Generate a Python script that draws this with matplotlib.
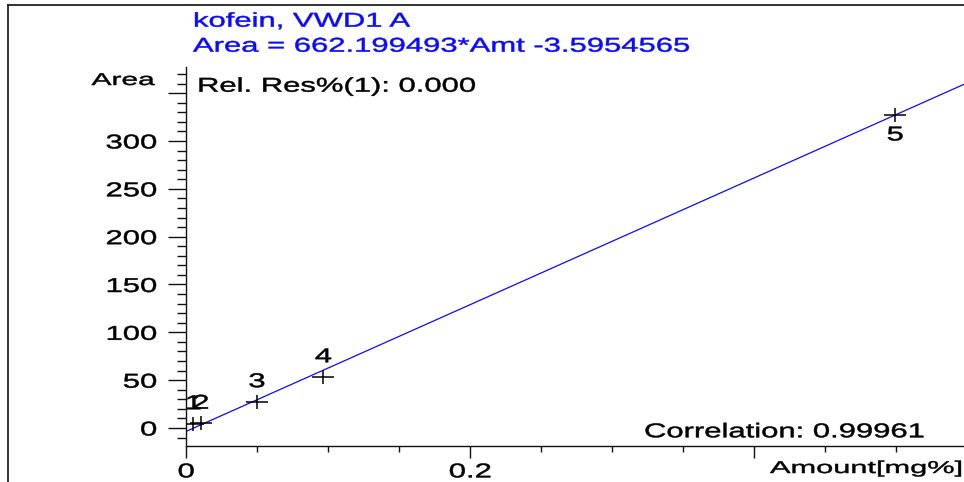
import matplotlib
matplotlib.use("Agg")
import matplotlib.pyplot as plt
from matplotlib.patheffects import AbstractPathEffect
from matplotlib.transforms import Affine2D
from matplotlib.path import Path
from matplotlib.lines import Line2D
from matplotlib.ticker import MultipleLocator

# Calibration data: caffeine standard, detector VWD1 A
amount = [0.005, 0.0103, 0.0498, 0.0967, 0.4993]
area = [4.5, 5.0, 27.5, 53.6, 327.2]
level_labels = ["1", "2", "3", "4", "5"]
label_above = [True, True, True, True, False]

slope = 662.199493
intercept = -3.5954565
correlation = 0.99961
rel_res = 0.000

y_ticks = [0, 50, 100, 150, 200, 250, 300, 350]
y_tick_labels = ["0", "50", "100", "150", "200", "250", "300", ""]
x_ticks = [0.0, 0.2, 0.4]
x_tick_labels = ["0", "0.2", ""]

compound = "kofein, VWD1 A"

BLUE = "#0a0aff"
FONT = "Liberation Sans"
FS = 14.4
SX = 1.55


class HStretch(AbstractPathEffect):
    """Draw text glyphs widened horizontally about a chosen edge,
    with a hairline outline to give the strokes some weight."""

    def __init__(self, sx, anchor="left", stroke=0.35):
        super().__init__()
        self.sx = sx
        self.anchor = anchor
        self.stroke = stroke

    def draw_path(self, renderer, gc, tpath, affine, rgbFace=None):
        verts = affine.transform(tpath.vertices)
        if len(verts):
            xmin, xmax = verts[:, 0].min(), verts[:, 0].max()
            x0 = {"left": xmin, "right": xmax,
                  "center": 0.5 * (xmin + xmax)}[self.anchor]
        else:
            x0 = 0.0
        aff = affine + Affine2D().translate(-x0, 0).scale(self.sx, 1).translate(x0, 0)
        gc0 = renderer.new_gc()
        gc0.copy_properties(gc)
        if rgbFace is not None and self.stroke > 0:
            gc0.set_foreground(rgbFace)
            gc0.set_linewidth(self.stroke)
        renderer.draw_path(gc0, tpath, aff, rgbFace)
        gc0.restore()


W, H = 964, 482
fig = plt.figure(figsize=(W / 100, H / 100), dpi=100)
fig.patch.set_facecolor("white")

# plot area (in pixels: x-origin 186, bottom 446, top 67)
ax = fig.add_axes([186 / W, (H - 446) / H, 795.2 / W, 379 / H])
ax.set_xlim(0, 0.56)
ax.set_ylim(-18.8, 377.3)
for side in ("top", "right"):
    ax.spines[side].set_visible(False)
for side in ("left", "bottom"):
    ax.spines[side].set_linewidth(1.0)
    ax.spines[side].set_color("#111111")

ax.set_yticks(y_ticks)
ax.set_yticklabels(y_tick_labels)
ax.set_xticks(x_ticks)
ax.set_xticklabels(x_tick_labels)
ax.yaxis.set_minor_locator(MultipleLocator(10))
ax.xaxis.set_minor_locator(MultipleLocator(0.05))
ax.tick_params(axis="y", which="major", direction="out", length=13, width=1.0,
               pad=8.0, labelsize=FS, color="#111111")
ax.tick_params(axis="y", which="minor", direction="out", length=6.5, width=1.0,
               color="#111111")
ax.tick_params(axis="x", which="major", direction="out", length=8.6, width=1.0,
               pad=3.2, labelsize=FS, color="#111111")
ax.tick_params(axis="x", which="minor", direction="out", length=4.3, width=1.0,
               color="#111111")
for t in ax.yaxis.get_major_ticks():
    t.label1.set_fontfamily(FONT)
    t.label1.set_path_effects([HStretch(SX, "right")])
for t in ax.xaxis.get_major_ticks():
    t.label1.set_fontfamily(FONT)
    t.label1.set_path_effects([HStretch(SX, "center")])

# regression line
ax.axline((0, intercept), slope=slope, color=BLUE, lw=0.9, zorder=2)

# calibration points as wide crosses
cross = Path([(-1.6, 0), (1.6, 0), (0, -0.95), (0, 0.95)],
             [Path.MOVETO, Path.LINETO, Path.MOVETO, Path.LINETO])
ax.plot(amount, area, linestyle="none", marker=cross, markersize=16.5,
        markeredgewidth=1.1, color="black", zorder=3)

for x, y, lab, up in zip(amount, area, level_labels, label_above):
    ax.annotate(lab, (x, y), xytext=(0, 14.4 if up else -14.4),
                textcoords="offset points", ha="center", va="center",
                fontsize=FS, family=FONT, color="black",
                path_effects=[HStretch(SX, "center")], zorder=4)

# axis titles
ax.set_ylabel("Area", rotation=0, ha="right", va="baseline", fontsize=12.3,
              family=FONT, path_effects=[HStretch(1.75, "right")])
ax.yaxis.set_label_coords((155 - 186) / 795.2, (446 - 85) / 379)
ax.set_xlabel("Amount[mg%]", ha="left", va="baseline", fontsize=12.3,
              family=FONT, path_effects=[HStretch(1.8, "left")])
ax.xaxis.set_label_coords((770 - 186) / 795.2, (446 - 473) / 379)


def px(x, y):
    return x / W, 1 - y / H


fig.text(*px(193, 26.7), compound, ha="left", va="baseline", fontsize=FS,
         family=FONT, color=BLUE, path_effects=[HStretch(SX, "left")])
fig.text(*px(193, 51.7), f"Area = {slope:.6f}*Amt {intercept:.7f}", ha="left",
         va="baseline", fontsize=FS, family=FONT, color=BLUE,
         path_effects=[HStretch(SX, "left")])
fig.text(*px(197, 91.7), f"Rel. Res%(1): {rel_res:.3f}", ha="left",
         va="baseline", fontsize=FS, family=FONT, color="black",
         path_effects=[HStretch(SX, "left")])
fig.text(*px(644, 437.3), f"Correlation: {correlation:.5f}", ha="left",
         va="baseline", fontsize=FS, family=FONT, color="black",
         path_effects=[HStretch(SX, "left")])

# outer frame of the report panel
fx, fy = px(8, 5)
fig.add_artist(Line2D([fx, fx], [-0.1, fy], transform=fig.transFigure,
                      color="#222222", lw=1.3))
fig.add_artist(Line2D([fx, 1.1], [fy, fy], transform=fig.transFigure,
                      color="#222222", lw=1.3))

fig.savefig("out.png", dpi=100, facecolor="white")
